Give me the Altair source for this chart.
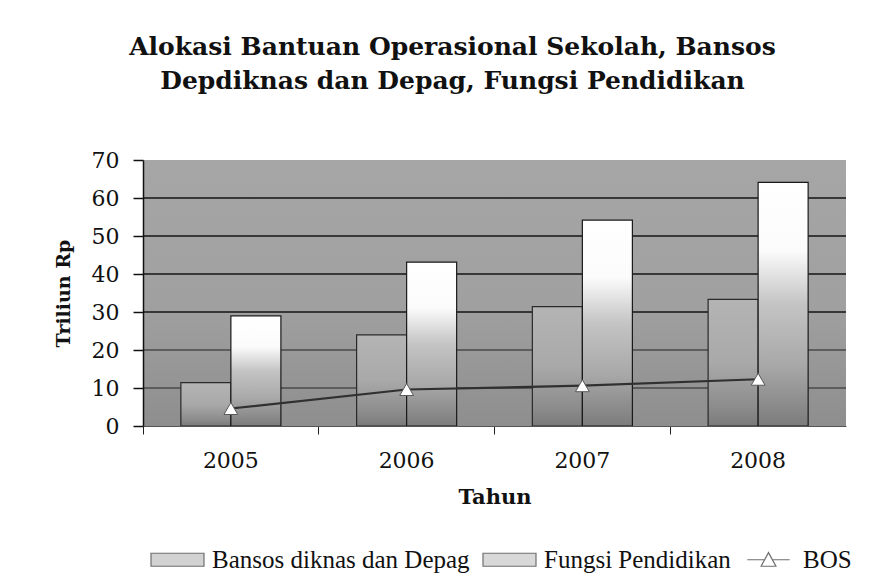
import altair as alt
import pandas as pd

years = ["2005", "2006", "2007", "2008"]
bansos = [11.4, 24.0, 31.4, 33.3]
fungsi = [29.0, 43.1, 54.2, 64.1]
bos = [4.6, 9.6, 10.6, 12.3]
y_ticks = [0, 10, 20, 30, 40, 50, 60, 70]
grid_vals = [10, 20, 30, 40, 50, 60]

S_B = "Bansos diknas dan Depag"
S_F = "Fungsi Pendidikan"
S_O = "BOS"
series_domain = [S_B, S_F, S_O]

W, H = 703, 266
PAD = {"left": 135, "top": 152, "right": 32, "bottom": 150}

bars = pd.DataFrame(
    [{"Tahun": y, "series": S_B, "value": v} for y, v in zip(years, bansos)]
    + [{"Tahun": y, "series": S_F, "value": v} for y, v in zip(years, fungsi)]
)
line_df = pd.DataFrame({"Tahun": years, "series": S_O, "value": bos})
bg_df = pd.DataFrame({"value": [70], "lo": [0]})
grid_df = pd.DataFrame({"value": grid_vals})

SERIF = "DejaVu Serif"
yscale = alt.Scale(domain=[0, 70], nice=False)
xscale = alt.Scale(paddingInner=0, paddingOuter=0)

x_axis = alt.Axis(
    labelAngle=0,
    bandPosition=0,
    grid=False,
    tickSize=8,
    labelPadding=16,
    labelFont=SERIF,
    labelFontSize=22,
    titleFont=SERIF,
    titleFontSize=21,
    titleFontWeight="bold",
    titlePadding=15,
    domainColor="#555",
    tickColor="#222",
    zindex=1,
)
y_axis = alt.Axis(
    values=y_ticks,
    tickCount=8,
    labelOverlap=False,
    grid=False,
    tickSize=10,
    labelPadding=14,
    labelFont=SERIF,
    labelFontSize=22,
    titleFont=SERIF,
    titleFontSize=19,
    titleFontWeight="bold",
    titlePadding=18,
    domainColor="#111",
    domainWidth=1.5,
    tickColor="#111",
    tickWidth=1.5,
    zindex=1,
)

x_enc = alt.X("Tahun:N", title="Tahun", scale=xscale, axis=x_axis)
y_enc = alt.Y("value:Q", title="Triliun Rp", scale=yscale, axis=y_axis)
xoff = alt.XOffset(
    "series:N",
    scale=alt.Scale(domain=[S_B, S_F], paddingOuter=0.757, paddingInner=0),
)

grad_b = alt.Gradient(
    gradient="linear", x1=0, y1=0, x2=0, y2=1,
    stops=[
        alt.GradientStop(color="#b4b4b4", offset=0),
        alt.GradientStop(color="#a9a9a9", offset=0.5),
        alt.GradientStop(color="#8c8c8c", offset=0.85),
        alt.GradientStop(color="#7a7a7a", offset=1),
    ],
)
grad_f = alt.Gradient(
    gradient="linear", x1=0, y1=0, x2=0, y2=1,
    stops=[
        alt.GradientStop(color="#ffffff", offset=0),
        alt.GradientStop(color="#fbfbfb", offset=0.28),
        alt.GradientStop(color="#c4c4c4", offset=0.5),
        alt.GradientStop(color="#a8a8a8", offset=0.75),
        alt.GradientStop(color="#7c7c7c", offset=1),
    ],
)
bg = alt.Gradient(
    gradient="linear", x1=0, y1=0, x2=0, y2=1,
    stops=[
        alt.GradientStop(color="#a6a6a6", offset=0),
        alt.GradientStop(color="#a0a0a0", offset=0.55),
        alt.GradientStop(color="#8e8e8e", offset=1),
    ],
)

background = alt.Chart(bg_df).mark_rect(fill=bg).encode(
    x=alt.value(0),
    x2=alt.value(W),
    y=y_enc,
    y2=alt.Y2("lo:Q"),
)

grid = alt.Chart(grid_df).mark_rule(strokeWidth=1.6).encode(
    y=y_enc,
    color=alt.condition("datum.value <= 20", alt.value("#4a4a4a"), alt.value("#151515")),
)

base = alt.Chart(bars)
bar_b = base.transform_filter(alt.datum.series == S_B).mark_bar(
    fill=grad_b, stroke="#2a2a2a", strokeWidth=1.2
).encode(x=x_enc, y=y_enc, xOffset=xoff)
bar_f = base.transform_filter(alt.datum.series == S_F).mark_bar(
    fill=grad_f, stroke="#1a1a1a", strokeWidth=1.2
).encode(x=x_enc, y=y_enc, xOffset=xoff)

line = alt.Chart(line_df).mark_line(color="#303030", strokeWidth=2.2).encode(
    x=x_enc, y=y_enc
)

tri = alt.Chart(line_df).mark_point(
    shape="triangle-up", filled=True, fill="#ffffff", stroke="#5a5a5a",
    strokeWidth=1.0, size=190, opacity=1
).encode(x=x_enc, y=y_enc)

rect_path = "M-1,-0.245H1V0.245H-1Z"
bos_path = "M-0.8,0H-0.14M0.14,0H0.8M-0.28,0.245L0,-0.27L0.28,0.245Z"
SYM = 2809

# legend-only layer: no marks drawn (filtered out), legend built from the explicit domain
legend_layer = alt.Chart(line_df).transform_filter("false").mark_point(
    filled=True, size=SYM, stroke="#333333", strokeWidth=1.2
).encode(
    x=x_enc,
    y=y_enc,
    color=alt.Color(
        "series:N",
        title=None,
        scale=alt.Scale(domain=series_domain, range=["#a4a4a4", "#b0b0b0", "#ffffff"]),
        legend=alt.Legend(
            orient="none",
            legendX=7,
            legendY=372,
            direction="horizontal",
            labelFont="Liberation Serif",
            labelFontSize=25,
            labelColor="#111",
            labelLimit=0,
            symbolSize=SYM,
            symbolOpacity=1,
            symbolStrokeColor="#333333",
            symbolStrokeWidth=1.2,
            labelOffset=7,
            columnPadding=10,
        ),
    ),
    shape=alt.Shape(
        "series:N",
        title=None,
        scale=alt.Scale(domain=series_domain, range=[rect_path, rect_path, bos_path]),
    ),
)

chart = (
    alt.layer(background, grid, bar_b, bar_f, line, tri, legend_layer)
    .properties(
        width=W,
        height=H,
        title=alt.TitleParams(
            ["Alokasi Bantuan Operasional Sekolah, Bansos", "Depdiknas dan Depag, Fungsi Pendidikan"],
            font=SERIF,
            fontSize=25,
            fontWeight="bold",
            color="#111",
            anchor="middle",
            dx=-42,
            offset=55,
            lineHeight=34,
        ),
        autosize=alt.AutoSizeParams(type="none"),
        padding=PAD,
    )
    .configure_view(stroke=None)
    .configure_axis(labelColor="#111", titleColor="#111")
)

chart.save("out.html", embed_options={"renderer": "svg", "actions": False})
